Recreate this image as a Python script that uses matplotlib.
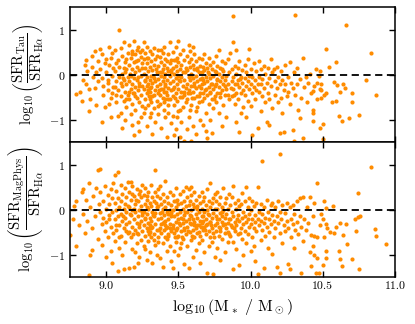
import matplotlib
matplotlib.use('Agg')
import matplotlib.pyplot as plt

plt.rcParams['mathtext.fontset'] = 'cm'
plt.rcParams['font.family'] = 'serif'
plt.rcParams['font.serif'] = ['cmr10']
plt.rcParams['axes.formatter.use_mathtext'] = True

# log10(SFR_Tau / SFR_Halpha) vs log10(M*)
tau_pts = [
    (8.79,-0.44),(8.82,-0.38),(8.83,-0.58),(8.84,-0.12),(8.85,0.22),(8.86,0.33),(8.87,0.08),(8.86,-0.21),
    (8.88,-0.31),(8.88,-0.82),(8.89,-0.55),(8.90,0.42),(8.90,0.17),(8.92,0.52),(8.91,-0.05),(8.92,-0.30),
    (8.93,-0.68),(8.94,0.30),(8.94,-0.15),(8.93,0.05),
    (8.96,0.58),(8.97,0.45),(8.96,0.12),(8.97,-0.08),(8.98,-0.25),(8.98,-0.45),(8.99,-0.72),(9.00,0.35),
    (9.00,0.05),(9.01,-0.18),(9.01,-0.35),(9.02,0.62),(9.02,0.22),(9.03,-0.52),(9.03,-0.95),(9.04,0.48),
    (9.04,-0.02),(9.05,-0.28),(9.05,0.15),(8.99,0.25),(9.02,-0.65),(9.04,-0.42),(8.97,-1.05),(9.03,0.38),
    (9.01,-0.12),
    (9.06,0.55),(9.06,0.08),(9.07,-0.15),(9.07,-0.62),(9.08,0.32),(9.08,-0.35),(9.09,1.00),(9.09,0.18),
    (9.09,-0.05),(9.10,-0.48),(9.10,-0.85),(9.11,0.42),(9.11,0.02),(9.11,-0.25),(9.12,0.72),(9.12,-0.12),
    (9.12,-0.58),(9.13,0.28),(9.13,-0.38),(9.13,-1.02),(9.14,0.12),(9.14,-0.22),(9.14,-0.72),(9.15,0.48),
    (9.15,-0.05),(9.15,-0.45),(9.07,0.25),(9.08,-0.92),(9.10,0.60),(9.11,-1.18),(9.12,0.15),(9.13,0.05),
    (9.14,0.35),(9.06,-0.28),(9.10,-0.18),
    (9.16,0.65),(9.16,0.22),(9.16,-0.15),(9.16,-0.55),(9.17,0.38),(9.17,-0.02),(9.17,-0.32),(9.17,-0.88),
    (9.18,0.52),(9.18,0.12),(9.18,-0.22),(9.18,-0.65),(9.19,0.75),(9.19,0.28),(9.19,-0.08),(9.19,-0.42),
    (9.19,-1.35),(9.20,0.45),(9.20,0.05),(9.20,-0.28),(9.20,-0.78),(9.21,0.18),(9.21,-0.12),(9.21,-0.52),
    (9.22,0.62),(9.22,0.32),(9.22,-0.35),(9.22,-1.05),(9.23,0.10),(9.23,-0.18),(9.23,-0.62),(9.24,0.40),
    (9.24,-0.02),(9.24,-0.45),(9.24,-0.95),(9.25,0.25),(9.25,-0.25),(9.25,-0.70),(9.18,-1.12),(9.21,0.55),
    (9.23,-1.25),(9.16,-0.38),(9.20,-0.48),(9.22,-0.05),(9.25,0.55),
    (9.26,0.72),(9.26,0.35),(9.26,0.02),(9.26,-0.32),(9.26,-0.85),(9.27,0.48),(9.27,0.15),(9.27,-0.15),
    (9.27,-0.55),(9.28,0.62),(9.28,0.25),(9.28,-0.05),(9.28,-0.42),(9.28,-1.15),(9.29,0.38),(9.29,0.08),
    (9.29,-0.22),(9.29,-0.68),(9.30,0.52),(9.30,0.18),(9.30,-0.12),(9.30,-0.38),(9.30,-0.95),(9.31,0.30),
    (9.31,-0.02),(9.31,-0.28),(9.31,-0.62),(9.32,0.45),(9.32,0.10),(9.32,-0.18),(9.32,-0.48),(9.32,-1.32),
    (9.33,0.60),(9.33,0.22),(9.33,-0.08),(9.33,-0.75),(9.34,0.35),(9.34,-0.15),(9.34,-0.35),(9.34,-1.05),
    (9.35,0.05),(9.35,-0.25),(9.35,-0.58),(9.27,-0.75),(9.29,-0.35),(9.31,-0.85),(9.33,-0.45),(9.35,0.42),
    (9.28,-0.25),(9.30,-0.55),
    (9.36,0.55),(9.36,0.20),(9.36,-0.10),(9.36,-0.42),(9.36,-0.88),(9.37,0.40),(9.37,0.05),(9.37,-0.22),
    (9.37,-0.65),(9.38,0.28),(9.38,-0.02),(9.38,-0.32),(9.38,-1.18),(9.39,0.48),(9.39,0.12),(9.39,-0.15),
    (9.39,-0.52),(9.40,0.62),(9.40,0.22),(9.40,-0.05),(9.40,-0.38),(9.40,-0.78),(9.41,0.35),(9.41,0.02),
    (9.41,-0.25),(9.41,-0.95),(9.42,0.15),(9.42,-0.12),(9.42,-0.45),(9.42,-1.38),(9.43,0.45),(9.43,0.08),
    (9.43,-0.30),(9.43,-0.68),(9.44,0.72),(9.44,0.25),(9.44,-0.18),(9.44,-0.55),(9.45,0.05),(9.45,-0.35),
    (9.45,-1.08),(9.37,-0.45),(9.39,-0.32),(9.41,-0.55),(9.43,-0.85),(9.45,0.32),(9.38,0.55),(9.42,0.30),
    (9.44,-0.02),(9.40,-0.62),
    (9.46,0.50),(9.46,0.15),(9.46,-0.15),(9.46,-0.48),(9.46,-0.92),(9.47,0.32),(9.47,0.02),(9.47,-0.28),
    (9.47,-0.68),(9.48,0.62),(9.48,0.20),(9.48,-0.08),(9.48,-0.40),(9.48,-1.22),(9.49,0.38),(9.49,0.08),
    (9.49,-0.20),(9.49,-0.58),(9.50,0.28),(9.50,-0.02),(9.50,-0.32),(9.50,-0.82),(9.51,0.45),(9.51,0.12),
    (9.51,-0.15),(9.51,-0.50),(9.52,0.22),(9.52,-0.05),(9.52,-0.38),(9.52,-1.05),(9.53,0.55),(9.53,0.05),
    (9.53,-0.25),(9.53,-0.72),(9.54,0.32),(9.54,-0.12),(9.54,-0.45),(9.55,0.15),(9.55,-0.30),(9.55,-0.62),
    (9.47,-1.35),(9.49,-0.95),(9.51,-0.78),(9.54,-1.47),(9.50,0.75),(9.51,-1.38),
    (9.56,0.42),(9.56,0.10),(9.56,-0.20),(9.56,-0.55),(9.57,0.28),(9.57,-0.05),(9.57,-0.35),(9.57,-0.95),
    (9.58,0.52),(9.58,0.18),(9.58,-0.12),(9.58,-0.42),(9.59,0.35),(9.59,0.02),(9.59,-0.25),(9.59,-0.68),
    (9.60,0.22),(9.60,-0.08),(9.60,-0.38),(9.60,-1.15),(9.61,0.45),(9.61,0.12),(9.61,-0.18),(9.61,-0.52),
    (9.62,0.30),(9.62,-0.02),(9.62,-0.30),(9.62,-0.82),(9.63,0.15),(9.63,-0.15),(9.63,-0.48),(9.64,0.38),
    (9.64,0.05),(9.64,-0.25),(9.64,-0.62),(9.65,0.20),(9.65,-0.10),(9.65,-0.40),(9.65,-1.02),(9.57,0.65),
    (9.60,0.62),(9.63,-0.72),(9.58,-0.78),(9.62,-1.32),(9.56,-1.22),(9.59,-1.47),
    (9.66,0.35),(9.66,0.05),(9.66,-0.22),(9.66,-0.58),(9.67,0.18),(9.67,-0.12),(9.67,-0.42),(9.67,-1.12),
    (9.68,0.45),(9.68,0.10),(9.68,-0.18),(9.68,-0.52),(9.69,0.25),(9.69,-0.05),(9.69,-0.32),(9.69,-0.85),
    (9.70,0.15),(9.70,-0.15),(9.70,-0.45),(9.70,-1.42),(9.71,0.38),(9.71,0.02),(9.71,-0.28),(9.71,-0.65),
    (9.72,0.22),(9.72,-0.08),(9.72,-0.38),(9.72,-1.02),(9.73,0.12),(9.73,-0.20),(9.73,-0.55),(9.74,0.28),
    (9.74,-0.02),(9.74,-0.32),(9.74,-0.75),(9.75,0.08),(9.75,-0.25),(9.75,-0.48),(9.69,-1.25),(9.73,-1.30),
    (9.76,0.42),(9.76,0.05),(9.76,-0.22),(9.76,-0.62),(9.77,0.20),(9.77,-0.10),(9.77,-0.40),(9.78,0.55),
    (9.78,0.02),(9.78,-0.28),(9.78,-0.85),(9.79,0.15),(9.79,-0.15),(9.79,-0.50),(9.80,0.30),(9.80,-0.05),
    (9.80,-0.35),(9.80,-1.15),(9.81,0.08),(9.81,-0.22),(9.81,-0.68),(9.82,0.25),(9.82,-0.12),(9.82,-0.45),
    (9.83,-0.02),(9.83,-0.32),(9.83,-0.95),(9.84,0.35),(9.84,-0.20),(9.85,-0.55),(9.85,0.05),
    (9.86,0.47),(9.87,0.12),(9.87,-0.15),(9.87,-0.48),(9.88,1.30),(9.88,0.73),(9.88,-0.05),(9.88,-0.32),
    (9.89,0.20),(9.89,-0.22),(9.89,-0.65),(9.90,0.55),(9.90,0.02),(9.90,-0.40),(9.90,-1.05),(9.91,0.15),
    (9.91,-0.12),(9.91,-0.55),(9.92,0.30),(9.92,-0.28),(9.93,-0.05),(9.93,-0.42),(9.93,-0.85),(9.94,0.10),
    (9.94,-0.18),(9.95,-0.35),(9.95,-0.72),(9.92,-1.28),
    (9.96,0.22),(9.96,-0.08),(9.96,-0.45),(9.97,0.05),(9.97,-0.25),(9.97,-0.95),(9.98,0.35),(9.98,-0.15),
    (9.98,-0.58),(9.99,0.58),(9.99,-0.02),(9.99,-0.32),(10.00,0.12),(10.00,-0.20),(10.00,-0.70),(10.01,-0.05),
    (10.01,-0.42),(10.02,0.25),(10.02,-0.28),(10.03,-0.12),(10.03,-0.55),(10.04,0.08),(10.04,-0.35),
    (10.05,-0.20),(10.05,-1.18),(10.01,-1.35),
    (10.06,0.30),(10.06,-0.05),(10.06,-0.38),(10.07,0.12),(10.07,-0.22),(10.07,-0.82),(10.08,-0.10),
    (10.08,-0.48),(10.09,0.20),(10.09,-0.30),(10.10,0.02),(10.10,-0.62),(10.11,-0.18),(10.11,-1.05),
    (10.12,0.15),(10.12,-0.40),(10.13,-0.08),(10.13,-0.55),(10.13,-1.11),(10.14,0.35),(10.14,-0.25),
    (10.15,-0.75),(10.15,0.05),
    (10.16,0.13),(10.17,-0.15),(10.17,-0.45),(10.18,0.17),(10.18,-0.30),(10.19,-0.05),(10.19,-0.62),
    (10.20,-1.30),(10.20,-0.22),(10.21,0.08),(10.21,-0.52),(10.22,-0.12),(10.22,-0.85),(10.23,-1.28),
    (10.23,-0.35),(10.24,0.22),(10.24,-0.20),(10.25,-0.48),
    (10.26,-0.05),(10.26,-0.38),(10.27,0.28),(10.27,-0.65),(10.28,-0.18),(10.29,-1.24),(10.29,-0.30),
    (10.30,-1.47),(10.30,0.05),(10.31,1.33),(10.31,-0.45),(10.32,0.15),(10.32,-0.22),(10.33,-0.78),
    (10.34,-0.97),(10.34,-0.10),(10.35,-0.52),
    (10.36,0.38),(10.36,-1.42),(10.37,-0.28),(10.38,-0.05),(10.39,-0.60),(10.40,-0.18),(10.41,0.02),
    (10.42,-0.40),(10.43,-0.85),(10.44,-0.25),(10.45,0.12),(10.46,-0.55),(10.47,-0.02),(10.48,0.07),
    (10.48,-1.19),(10.49,-0.35),(10.43,-0.36),(10.43,-0.78),(10.43,-1.04),(10.46,-0.18),(10.48,-0.33),
    (10.49,-0.53),(10.50,-1.09),(10.50,-1.44),(10.49,-0.20),
    (10.51,-0.45),(10.52,0.56),(10.52,-0.40),(10.54,0.18),(10.56,-0.60),(10.58,-0.16),(10.59,0.27),
    (10.59,-0.58),(10.60,-0.24),(10.61,-0.91),(10.62,-0.38),(10.63,-1.04),(10.64,-0.20),(10.65,-0.29),
    (10.66,1.11),(10.68,-0.96),(10.70,-0.40),(10.70,-0.62),(10.75,-0.90),(10.80,-0.11),(10.83,0.49),
    (10.87,-0.45),
    # extra points filling the dense core
    (9.065,-0.45),(9.115,-0.08),(9.135,-0.55),(9.165,0.02),(9.185,-0.40),(9.205,0.30),(9.225,-0.25),
    (9.245,0.15),(9.265,-0.12),(9.285,0.38),(9.305,-0.30),(9.325,-0.02),(9.345,0.12),(9.365,-0.35),
    (9.385,0.05),(9.405,-0.20),(9.425,-0.55),(9.445,0.10),(9.465,-0.32),(9.485,0.32),(9.505,-0.12),
    (9.525,-0.50),(9.545,0.05),(9.565,-0.40),(9.585,-0.02),(9.605,-0.25),(9.625,0.10),(9.645,-0.48),
    (9.665,-0.08),(9.685,-0.35),(9.705,0.05),(9.725,-0.22),(9.745,-0.55),(9.765,-0.12),(9.785,-0.40),
    (9.805,0.12),(9.825,-0.25),(9.845,-0.45),(9.865,-0.30),(9.885,-0.45),(9.905,-0.20),(9.925,-0.10),
    (9.175,0.45),(9.235,0.50),(9.295,-0.48),(9.355,-0.70),(9.415,-0.38),(9.475,-0.52),(9.535,-0.38),
    (9.595,-0.52),(9.655,-0.30),(9.715,-0.40),
]

# log10(SFR_MagPhys / SFR_Halpha) vs log10(M*)
mag_pts = [
    (8.75,-0.56),(8.77,-0.20),(8.78,0.08),(8.79,0.18),(8.79,-0.82),(8.81,-0.35),(8.83,0.40),(8.84,0.45),
    (8.84,-0.10),(8.85,-0.52),(8.86,0.22),(8.87,-0.25),(8.88,0.60),(8.88,-1.45),(8.89,-1.00),(8.89,0.05),
    (8.90,-0.89),(8.90,-0.40),(8.91,0.30),(8.92,-0.15),(8.93,0.48),(8.94,0.87),(8.94,-0.65),(8.95,0.12),
    (8.96,0.91),(8.96,0.38),(8.96,-0.05),(8.97,-0.32),(8.97,-0.78),(8.98,0.20),(8.98,-0.18),(8.99,0.52),
    (8.99,-0.48),(9.00,0.02),(9.00,-0.28),(9.00,-1.05),(9.01,0.32),(9.01,-0.62),(9.02,0.12),(9.02,-0.12),
    (9.03,0.45),(9.03,-0.38),(9.03,-0.92),(9.04,-1.18),(9.04,0.25),(9.04,-0.05),(9.05,-0.52),(9.05,0.58),
    (9.02,-0.22),
    (9.06,0.76),(9.06,0.15),(9.06,-0.22),(9.06,-0.70),(9.07,0.42),(9.07,-0.02),(9.07,-0.45),(9.08,0.84),
    (9.08,0.25),(9.08,-0.15),(9.08,-1.37),(9.09,0.05),(9.09,-0.35),(9.09,-0.85),(9.10,0.55),(9.10,0.18),
    (9.10,-0.10),(9.10,-0.58),(9.11,0.35),(9.11,-0.25),(9.11,-1.02),(9.12,0.02),(9.12,-0.42),(9.12,-1.33),
    (9.13,0.48),(9.13,0.12),(9.13,-0.18),(9.13,-0.72),(9.14,0.28),(9.14,-0.05),(9.14,-0.32),(9.15,0.62),
    (9.15,-0.52),(9.15,0.08),(9.09,-0.62),
    (9.16,0.40),(9.16,0.05),(9.16,-0.28),(9.16,-1.29),(9.17,0.22),(9.17,-0.12),(9.17,-0.62),(9.18,0.52),
    (9.18,-0.02),(9.18,-0.38),(9.18,-0.88),(9.19,0.30),(9.19,-0.20),(9.19,-1.28),(9.20,0.12),(9.20,-0.45),
    (9.20,-0.05),(9.21,0.45),(9.21,-0.30),(9.21,-0.75),(9.22,0.18),(9.22,-0.15),(9.22,-0.55),(9.23,0.35),
    (9.23,-0.02),(9.23,-0.38),(9.23,-1.05),(9.24,0.08),(9.24,-0.25),(9.24,-0.68),(9.25,0.55),(9.25,-0.12),
    (9.25,-0.48),(9.17,0.62),(9.20,-0.95),(9.22,-1.18),(9.24,0.28),(9.19,0.02),(9.21,-0.52),(9.16,-0.50),
    (9.26,0.32),(9.26,-0.05),(9.26,-0.35),(9.26,-0.82),(9.27,0.48),(9.27,0.12),(9.27,-0.22),(9.27,-0.58),
    (9.28,0.22),(9.28,-0.10),(9.28,-0.42),(9.28,-1.12),(9.29,0.40),(9.29,0.02),(9.29,-0.30),(9.29,-0.70),
    (9.30,0.15),(9.30,-0.18),(9.30,-0.50),(9.30,-0.95),(9.31,0.55),(9.31,0.08),(9.31,-0.25),(9.31,-0.62),
    (9.32,0.28),(9.32,-0.05),(9.32,-0.38),(9.32,-1.18),(9.33,0.18),(9.33,-0.15),(9.33,-0.55),(9.34,0.89),
    (9.34,0.38),(9.34,-0.08),(9.34,-0.32),(9.34,-0.78),(9.35,0.05),(9.35,-0.45),(9.35,-1.02),(9.27,-0.88),
    (9.29,-0.48),(9.31,-0.40),(9.33,-0.68),(9.35,0.30),(9.28,0.05),(9.30,-0.35),
    (9.36,0.45),(9.36,0.08),(9.36,-0.22),(9.36,-0.60),(9.37,0.25),(9.37,-0.08),(9.37,-0.40),(9.37,-1.08),
    (9.38,0.12),(9.38,-0.18),(9.38,-0.52),(9.39,0.35),(9.39,0.02),(9.39,-0.30),(9.39,-1.27),(9.39,-0.75),
    (9.40,0.18),(9.40,-0.12),(9.40,-0.45),(9.41,0.64),(9.41,0.05),(9.41,-0.25),(9.41,-0.62),(9.42,0.28),
    (9.42,-0.05),(9.42,-0.38),(9.42,-0.92),(9.43,0.15),(9.43,-0.20),(9.43,-0.55),(9.44,0.40),(9.44,0.00),
    (9.44,-0.32),(9.44,-0.82),(9.45,0.10),(9.45,-0.15),(9.45,-0.48),(9.45,-1.15),(9.38,-0.32),(9.40,-0.28),
    (9.42,-0.65),(9.44,-0.42),(9.37,0.52),(9.43,-0.10),
    (9.46,0.32),(9.46,-0.02),(9.46,-0.35),(9.46,-1.29),(9.47,0.18),(9.47,-0.15),(9.47,-0.52),(9.48,0.48),
    (9.48,0.05),(9.48,-0.28),(9.48,-0.72),(9.49,0.22),(9.49,-0.10),(9.49,-0.42),(9.50,0.12),(9.50,-0.22),
    (9.50,-0.58),(9.50,-1.02),(9.51,0.35),(9.51,-0.05),(9.51,-0.35),(9.51,-0.85),(9.52,0.15),(9.52,-0.18),
    (9.52,-0.48),(9.53,0.42),(9.53,0.02),(9.53,-0.30),(9.53,-0.65),(9.54,0.20),(9.54,-0.12),(9.54,-0.40),
    (9.54,-1.20),(9.55,0.08),(9.55,-0.25),(9.55,-0.55),(9.47,-0.92),(9.49,-0.62),(9.52,-0.75),(9.55,0.50),
    (9.48,-0.45),(9.53,-0.20),
    (9.56,0.28),(9.56,-0.05),(9.56,-0.38),(9.56,-0.80),(9.57,0.45),(9.57,0.10),(9.57,-0.22),(9.57,-1.29),
    (9.58,0.18),(9.58,-0.12),(9.58,-0.50),(9.59,0.32),(9.59,-0.02),(9.59,-0.32),(9.59,-0.68),(9.60,0.12),
    (9.60,-0.20),(9.60,-0.45),(9.60,-1.05),(9.61,0.40),(9.61,0.05),(9.61,-0.28),(9.61,-0.60),(9.62,0.22),
    (9.62,-0.10),(9.62,-0.42),(9.62,-0.90),(9.63,0.08),(9.63,-0.18),(9.63,-0.52),(9.64,0.30),(9.64,-0.05),
    (9.64,-0.35),(9.64,-0.75),(9.65,0.15),(9.65,-0.25),(9.65,-0.58),(9.65,-1.18),(9.58,-0.30),(9.60,-0.62),
    (9.63,-0.35),(9.59,0.50),
    (9.66,0.38),(9.66,0.02),(9.66,-0.30),(9.66,-0.68),(9.67,0.18),(9.67,-0.15),(9.67,-0.45),(9.68,0.28),
    (9.68,-0.05),(9.68,-0.38),(9.68,-0.95),(9.69,0.10),(9.69,-0.22),(9.69,-0.55),(9.70,0.45),(9.70,-0.02),
    (9.70,-0.32),(9.70,-1.42),(9.71,0.20),(9.71,-0.12),(9.71,-0.48),(9.71,-0.82),(9.72,0.60),(9.72,0.05),
    (9.72,-0.28),(9.72,-0.62),(9.73,0.15),(9.73,-0.18),(9.73,-0.42),(9.74,-1.44),(9.74,0.25),(9.74,-0.08),
    (9.74,-0.52),(9.75,0.02),(9.75,-0.35),(9.75,-1.05),(9.67,-0.25),(9.69,-0.35),(9.73,-0.72),(9.75,0.35),
    (9.76,0.18),(9.76,-0.15),(9.76,-0.48),(9.77,0.38),(9.77,0.02),(9.77,-0.30),(9.77,-0.85),(9.78,0.12),
    (9.78,-0.22),(9.78,-0.58),(9.79,0.28),(9.79,-0.08),(9.79,-0.40),(9.79,-1.12),(9.80,0.05),(9.80,-0.28),
    (9.80,-0.65),(9.81,0.48),(9.81,-0.02),(9.81,-0.35),(9.82,0.15),(9.82,-0.18),(9.82,-0.52),(9.82,-0.95),
    (9.83,0.25),(9.83,-0.10),(9.83,-0.42),(9.84,0.02),(9.84,-0.30),(9.84,-0.72),(9.85,0.35),(9.85,-0.20),
    (9.85,-0.55),(9.78,-0.38),(9.80,-0.15),
    (9.86,0.10),(9.86,-0.22),(9.86,-0.58),(9.87,0.28),(9.87,-0.05),(9.87,-0.38),(9.88,0.53),(9.88,-0.15),
    (9.88,-1.33),(9.88,-0.72),(9.89,0.15),(9.89,-0.28),(9.89,-0.48),(9.90,0.02),(9.90,-0.35),(9.90,-0.88),
    (9.91,0.22),(9.91,-0.12),(9.91,-0.55),(9.92,-1.24),(9.92,0.08),(9.92,-0.25),(9.93,-0.42),(9.93,0.12),
    (9.94,0.36),(9.94,-0.18),(9.94,-0.65),(9.95,-0.05),(9.95,-0.32),(9.95,-1.02),
    (9.96,0.18),(9.96,-0.15),(9.96,-0.48),(9.97,0.51),(9.97,-0.28),(9.97,-0.75),(9.98,0.05),(9.98,-0.20),
    (9.98,-0.55),(9.99,0.25),(9.99,-0.10),(9.99,-0.38),(10.00,-0.02),(10.00,-0.32),(10.00,-0.92),
    (10.01,0.18),(10.01,-0.22),(10.01,-0.62),(10.02,0.08),(10.02,-0.40),(10.03,-0.12),(10.03,-0.28),
    (10.03,-1.15),(10.04,0.15),(10.04,-0.48),(10.05,0.51),(10.05,-0.20),(10.05,-1.44),(10.02,-0.80),
    (10.06,-0.05),(10.06,-0.35),(10.07,0.12),(10.07,-0.25),(10.07,-0.68),(10.08,1.07),(10.08,-0.10),
    (10.08,-0.45),(10.09,0.05),(10.09,-0.30),(10.09,-1.29),(10.10,-0.18),(10.10,-0.58),(10.11,0.22),
    (10.11,-0.38),(10.12,-0.05),(10.12,-0.85),(10.13,-0.22),(10.13,-0.50),(10.14,0.10),(10.14,-0.32),
    (10.15,0.15),(10.15,-0.12),(10.15,-0.98),
    (10.16,-0.25),(10.16,-0.60),(10.17,0.05),(10.17,-0.40),(10.18,-0.15),(10.18,-1.27),(10.19,0.20),
    (10.19,-0.30),(10.20,1.24),(10.20,-1.40),(10.20,-0.05),(10.20,-0.52),(10.21,-0.20),(10.22,0.10),
    (10.22,-0.75),(10.23,-0.35),(10.24,-0.08),(10.24,-0.48),(10.25,0.15),(10.25,-0.25),
    (10.26,-1.20),(10.26,-0.40),(10.27,-1.33),(10.27,0.05),(10.28,-0.22),(10.28,-0.62),(10.29,0.09),
    (10.29,-0.32),(10.30,-0.10),(10.30,-0.85),(10.31,-0.45),(10.32,0.18),(10.32,-0.28),(10.33,-0.55),
    (10.34,0.25),(10.34,-0.15),(10.35,-1.40),(10.35,-0.38),
    (10.36,0.27),(10.36,-0.70),(10.37,-0.22),(10.38,-0.45),(10.39,0.05),(10.40,-0.30),(10.41,0.29),
    (10.41,-0.95),(10.42,-0.56),(10.42,-1.26),(10.43,-0.80),(10.43,-0.15),(10.44,0.15),(10.44,-0.58),
    (10.44,-1.00),(10.45,-1.41),(10.46,0.60),(10.46,-0.60),(10.46,-1.07),(10.47,-1.41),(10.48,-0.35),
    (10.49,-0.10),
    (10.50,-0.22),(10.50,-1.24),(10.51,0.20),(10.51,-0.60),(10.52,0.04),(10.52,-0.33),(10.52,-0.92),
    (10.52,-1.08),(10.53,-0.40),(10.55,-0.51),(10.57,0.07),(10.58,-0.52),(10.59,-0.39),(10.61,-0.93),
    (10.62,-0.31),(10.62,-1.09),(10.63,-1.26),(10.64,-0.56),(10.66,-0.33),(10.67,-0.76),(10.70,-1.10),
    (10.72,-0.20),(10.73,-0.48),(10.74,0.36),(10.74,-0.16),(10.75,-1.33),(10.76,-0.15),(10.83,0.95),
    (10.86,-0.44),(10.87,-0.58),(10.94,-0.76),
    # extra points filling the dense core
    (9.065,-0.35),(9.115,-0.15),(9.135,-0.48),(9.165,-0.10),(9.185,-0.55),(9.205,0.22),(9.225,-0.32),
    (9.245,-0.05),(9.265,-0.18),(9.285,0.30),(9.305,-0.40),(9.325,-0.12),(9.345,0.15),(9.365,-0.45),
    (9.385,-0.05),(9.405,-0.35),(9.425,-0.58),(9.445,-0.08),(9.465,-0.42),(9.485,0.20),(9.505,-0.30),
    (9.525,-0.62),(9.545,-0.05),(9.565,-0.48),(9.585,-0.15),(9.605,-0.35),(9.625,0.02),(9.645,-0.50),
    (9.665,-0.15),(9.685,-0.45),(9.705,-0.10),(9.725,-0.35),(9.745,-0.60),(9.765,-0.22),(9.785,-0.48),
    (9.805,-0.05),(9.825,-0.32),(9.845,-0.50),(9.865,-0.35),(9.885,-0.42),(9.905,-0.20),(9.925,-0.52),
    (9.175,0.35),(9.235,0.42),(9.295,-0.55),(9.355,-0.72),(9.415,-0.42),(9.475,-0.60),(9.535,-0.45),
    (9.595,-0.58),(9.655,-0.38),(9.715,-0.28),
]

tau_x = [p[0] for p in tau_pts]
tau_y = [p[1] for p in tau_pts]
mag_x = [p[0] for p in mag_pts]
mag_y = [p[1] for p in mag_pts]

ylabels = [r'$\log_{10}\left(\dfrac{\mathrm{SFR}_{\mathrm{Tau}}}{\mathrm{SFR}_{\mathrm{H\alpha}}}\right)$',
           r'$\log_{10}\left(\dfrac{\mathrm{SFR}_{\mathrm{MagPhys}}}{\mathrm{SFR}_{\mathrm{H\alpha}}}\right)$']

fig, axes = plt.subplots(2, 1, sharex=True, figsize=(4.15, 3.24), dpi=100)
fig.subplots_adjust(left=0.169, right=0.952, top=0.978, bottom=0.145, hspace=0)

for ax, xs, ys, lab in zip(axes, [tau_x, mag_x], [tau_y, mag_y], ylabels):
    ax.scatter(xs, ys, s=9, color='darkorange', linewidths=0)
    ax.axhline(0, color='black', ls='--', lw=1.3, dashes=(4, 2.5))
    ax.set_ylim(-1.5, 1.5)
    ax.set_yticks([-1, 0, 1])
    ax.set_ylabel(lab, fontsize=10.5)
    ax.yaxis.set_label_coords(-0.075, 0.5)
    ax.tick_params(direction='in', top=True, right=True, length=4, width=1, labelsize=8.5)
    for sp in ax.spines.values():
        sp.set_linewidth(1.1)

axes[1].set_xlim(8.75, 11.0)
axes[1].set_xticks([9.0, 9.5, 10.0, 10.5, 11.0])
axes[1].xaxis.set_major_formatter(matplotlib.ticker.FormatStrFormatter('%.1f'))
axes[1].set_xlabel(r'$\log_{10}(\mathrm{M_*\ /\ M_\odot})$', fontsize=11.5)

fig.savefig('out.png', dpi=100)
